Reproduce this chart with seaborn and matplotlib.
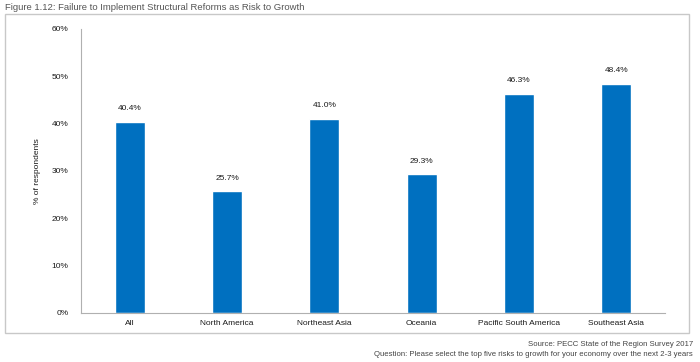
import numpy as np
import pandas as pd
import matplotlib
matplotlib.use("Agg")
import matplotlib.pyplot as plt
import seaborn as sns
from matplotlib.patches import Rectangle
from matplotlib.ticker import FixedLocator, PercentFormatter

# ====================== 数据 ======================
regions = ["All", "North America", "Northeast Asia", "Oceania",
           "Pacific South America", "Southeast Asia"]
share = [40.4, 25.7, 41.0, 29.3, 46.3, 48.4]

title = "Figure 1.12: Failure to Implement Structural Reforms as Risk to Growth"
source = "Source: PECC State of the Region Survey 2017"
question = "Question: Please select the top five risks to growth for your economy over the next 2-3 years"

sns.set_style("white")
plt.rcParams["font.family"] = ["Liberation Sans Narrow", "Liberation Sans", "DejaVu Sans"]

df = pd.DataFrame({"region": regions, "share": share})

fig = plt.figure(figsize=(7, 3.62), dpi=100)
ax = fig.add_axes([0.1157, 0.1354, 0.8343, 0.7846])

sns.barplot(data=df, x="region", y="share", color="#0070C0", saturation=1,
            width=0.31, ax=ax)

# 柱顶数值标注
for p, v in zip(ax.patches, share):
    ax.text(p.get_x() + p.get_width() / 2, v + 2.0, f"{v:.1f}%",
            ha="center", va="bottom", fontsize=6, color="#1a1a1a")

ax.set_ylim(0, 60)
ax.set_xlim(-0.5, len(regions) - 0.5)
ax.set_yticks(np.arange(0, 61, 10))
ax.yaxis.set_major_formatter(PercentFormatter(decimals=0))
ax.set_xlabel("")
ax.set_ylabel("% of respondents", fontsize=6, color="#1a1a1a", labelpad=8)

# 刻度：x轴刻度线在类别之间
ax.xaxis.set_minor_locator(FixedLocator(np.arange(-0.5, len(regions), 1)))
ax.tick_params(axis="x", which="major", length=0, labelsize=6, colors="#1a1a1a", pad=5)
ax.tick_params(axis="x", which="minor", length=3, color="#aaaaaa", direction="out")
ax.tick_params(axis="y", length=3, color="#aaaaaa", labelsize=6, labelcolor="#1a1a1a", pad=6)

for s in ["top", "right"]:
    ax.spines[s].set_visible(False)
for s in ["left", "bottom"]:
    ax.spines[s].set_color("#b0b0b0")
    ax.spines[s].set_linewidth(0.8)

# 外框
fig.patches.append(Rectangle((5 / 700, 1 - 333 / 362), 684 / 700, 319 / 362,
                             transform=fig.transFigure, fill=False,
                             edgecolor="#c8c8c8", linewidth=1.0))

fig.text(5 / 700, 1 - 7 / 362, title, ha="left", va="center", fontsize=6.8, color="#555555")
fig.text(693 / 700, 1 - 345 / 362, source, ha="right", va="center", fontsize=5.6, color="#444444")
fig.text(693 / 700, 1 - 355 / 362, question, ha="right", va="center", fontsize=5.6, color="#444444")

plt.savefig("out.png", dpi=100)
plt.close()
